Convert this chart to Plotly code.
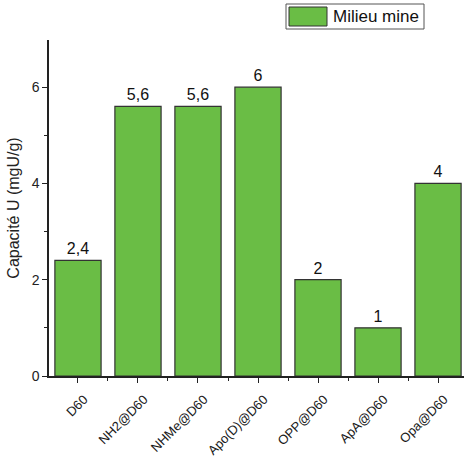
import plotly.graph_objects as go

categories = ["D60", "NH2@D60", "NHMe@D60", "Apo(D)@D60", "OPP@D60", "ApA@D60", "Opa@D60"]
values = [2.4, 5.6, 5.6, 6, 2, 1, 4]
series_name = "Milieu mine"
y_ticks = [0, 2, 4, 6]

xpos = list(range(len(categories)))
labels = [("%g" % v).replace(".", ",") for v in values]

font = "Liberation Sans, Arial, sans-serif"
axcol = "#222222"
green = "#6ABD45"

FW, FH = 465, 459
L, R, T, B = 49, 464, 40, 376
W, H = R - L, B - T

fig = go.Figure()
fig.add_trace(go.Bar(
    x=xpos, y=values, name=series_name,
    width=0.77,
    marker=dict(color=green, line=dict(color="#333333", width=1.2)),
    text=labels, textposition="outside", cliponaxis=False,
    textfont=dict(size=16, color="#111111", family=font),
    showlegend=False,
))

# legend box (drawn as shapes + text)
fig.add_shape(type="rect", xref="paper", yref="paper",
              x0=(286 - L) / W, x1=(424 - L) / W,
              y0=(B - 29) / H, y1=(B - 4) / H,
              line=dict(color="#555555", width=1), fillcolor="white")
fig.add_shape(type="rect", xref="paper", yref="paper",
              x0=(289 - L) / W, x1=(327 - L) / W,
              y0=(B - 26) / H, y1=(B - 7) / H,
              line=dict(color="#333333", width=1), fillcolor=green)
fig.add_annotation(xref="paper", yref="paper", x=(331 - L) / W, y=(B - 16.5) / H,
                   xanchor="left", yanchor="middle", text=series_name, showarrow=False,
                   font=dict(size=17, family=font, color="#111111"))

fig.update_layout(
    width=FW, height=FH,
    margin=dict(l=L, r=FW - R, t=T, b=FH - B),
    plot_bgcolor="white", paper_bgcolor="white",
    font=dict(family=font, size=14, color="#222222"),
    showlegend=False,
)
fig.update_xaxes(
    range=[-0.483, 6.433], automargin=False,
    tickmode="array", tickvals=xpos, ticktext=categories, tickangle=-45,
    showline=True, linecolor=axcol, linewidth=1.5,
    ticks="outside", ticklen=5, tickcolor=axcol, tickwidth=1.2,
    minor=dict(tickmode="linear", tick0=0.5, dtick=1, ticks="outside", ticklen=3,
               tickcolor=axcol, tickwidth=1.2),
    showgrid=False, zeroline=False,
    tickfont=dict(size=13, family=font, color="#1a1a1a"),
    ticklabelstandoff=4, ticklabelshift=6,
)
fig.update_yaxes(
    range=[0, 6.98], automargin=False,
    tickmode="array", tickvals=y_ticks,
    showline=True, linecolor=axcol, linewidth=1.5,
    ticks="outside", ticklen=5, tickcolor=axcol, tickwidth=1.2,
    minor=dict(tickmode="linear", tick0=1, dtick=2, ticks="outside", ticklen=3,
               tickcolor=axcol, tickwidth=1.2),
    showgrid=False, zeroline=False,
    title=dict(text="Capacité U (mgU/g)", font=dict(size=16, family=font), standoff=8),
    tickfont=dict(size=14, family=font),
)

fig.write_html("out.html", post_script="document.body.style.margin='0';",
               config={"displayModeBar": False})
